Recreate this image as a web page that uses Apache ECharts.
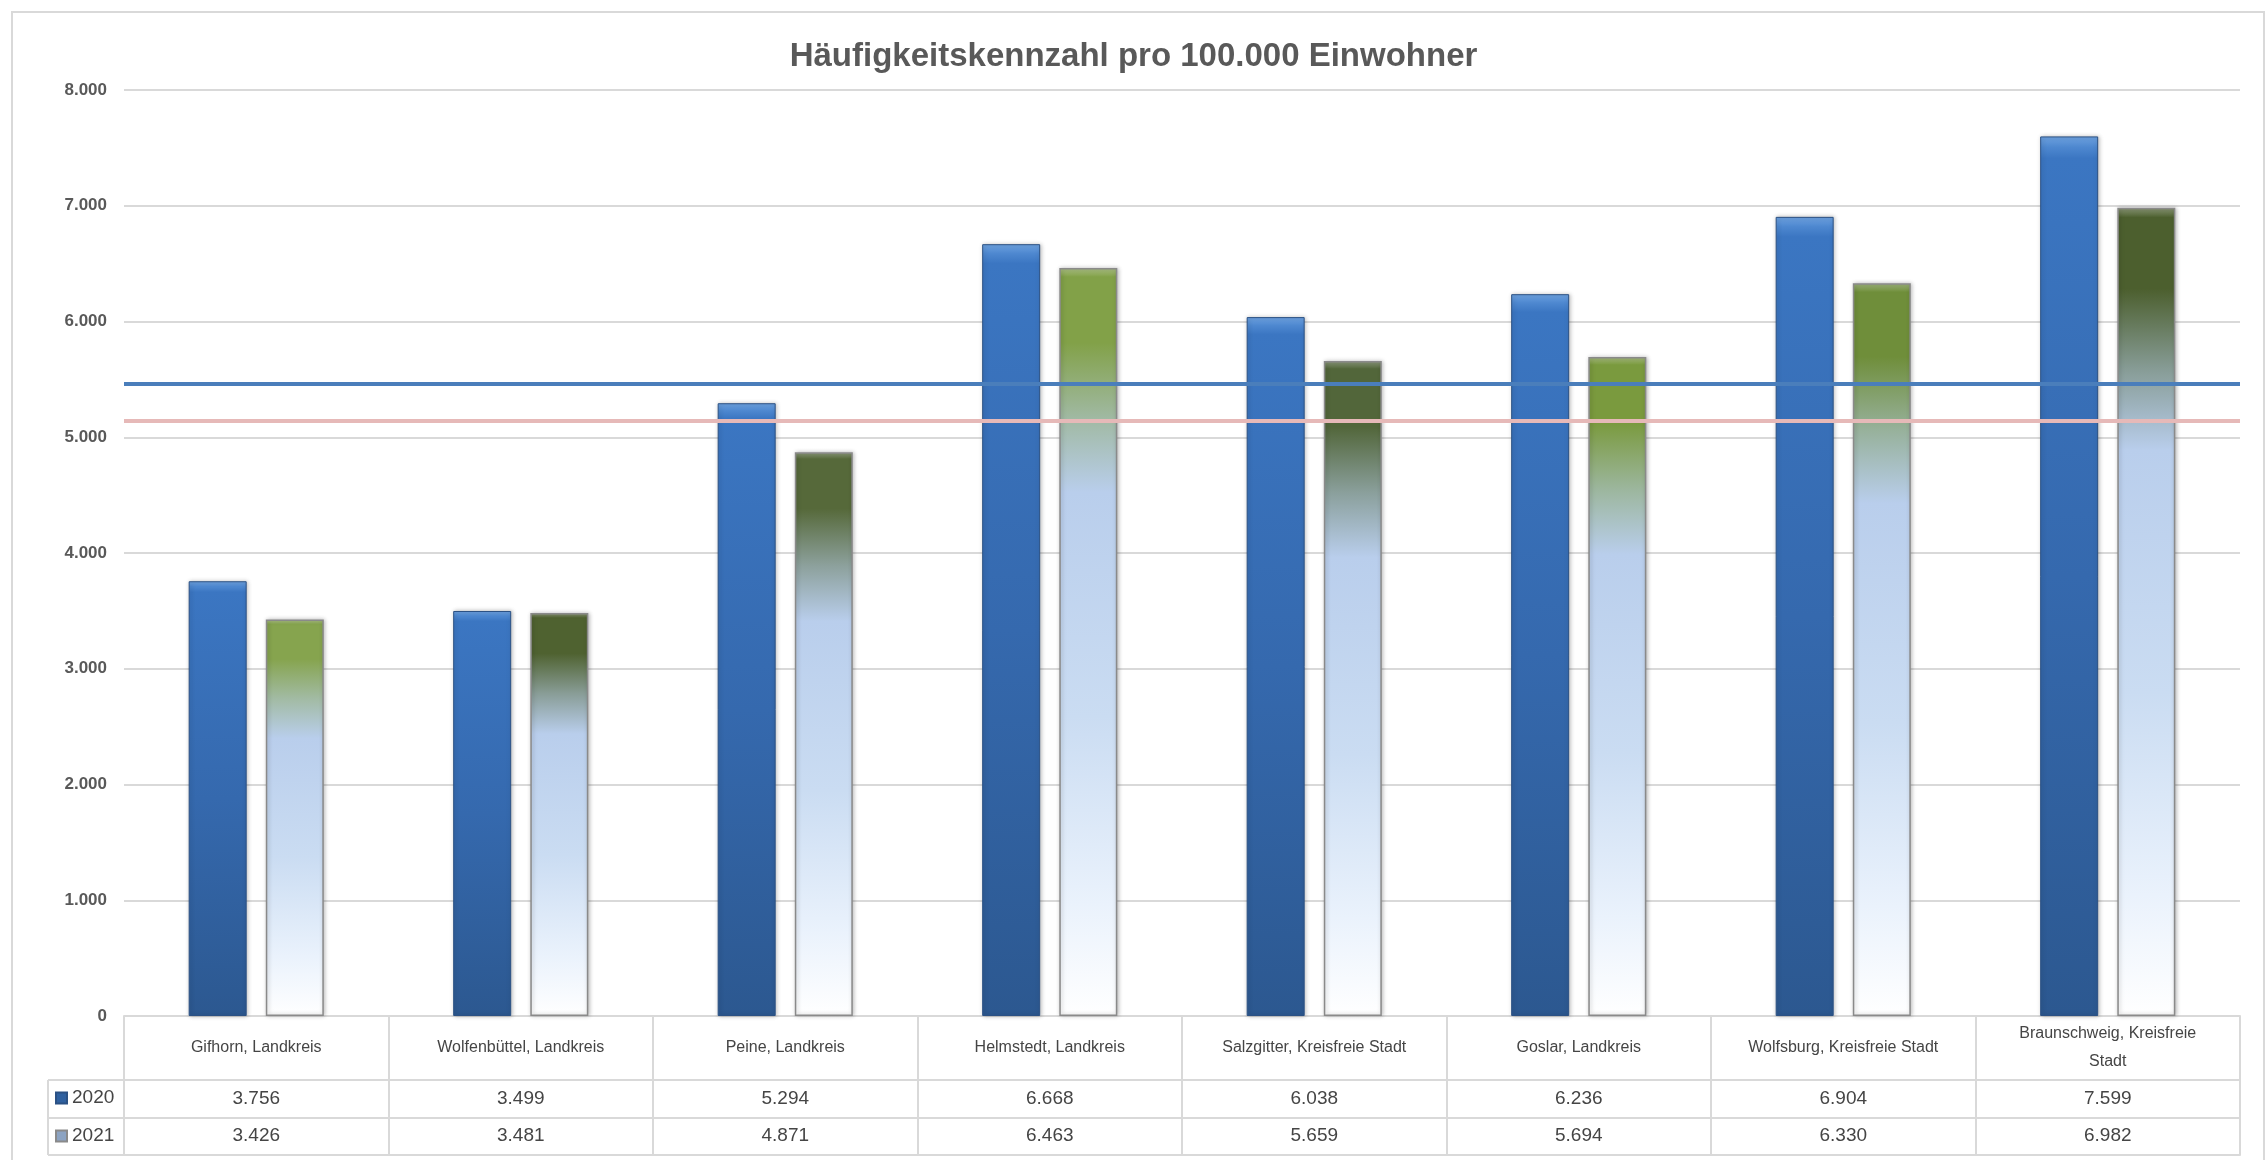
<!DOCTYPE html>
<html>
<head>
<meta charset="utf-8">
<script src="https://cdn.jsdelivr.net/npm/echarts@6/dist/echarts.min.js"></script>
<style>
	html, body { margin: 0; padding: 0; background: #fff; }
	#chart-container { width: 2267px; height: 1160px; }
</style>
</head>
<body>
<div id="chart-container"></div>
<script>
const categories = ['Gifhorn, Landkreis', 'Wolfenbüttel, Landkreis', 'Peine, Landkreis', 'Helmstedt, Landkreis',
	'Salzgitter, Kreisfreie Stadt', 'Goslar, Landkreis', 'Wolfsburg, Kreisfreie Stadt', 'Braunschweig, Kreisfreie Stadt'];
const values2020 = [3756, 3499, 5294, 6668, 6038, 6236, 6904, 7599];
const values2021 = [3426, 3481, 4871, 6463, 5659, 5694, 6330, 6982];
const seriesNames = ['2020', '2021'];
// horizontal reference lines
const refLine2020 = 5460;
const refLine2021 = 5145;
const yMin = 0, yMax = 8000, yStep = 1000;

// 1234 -> "1.234"
const fmt = v => String(Math.round(v)).replace(/\B(?=(\d{3})+(?!\d))/g, '.');

// long names wrap onto a second line at the last space
const wrapLong = s => s.length > 28 ? s.slice(0, s.lastIndexOf(' ')) + '\n' + s.slice(s.lastIndexOf(' ') + 1) : s;

const mix = (a, b, t) => {
	const pa = parseInt(a.slice(1), 16), pb = parseInt(b.slice(1), 16);
	const out = [16, 8, 0].map(s => {
		const x = (pa >> s) & 255, y = (pb >> s) & 255;
		return Math.round(x + (y - x) * t);
	});
	return '#' + out.map(n => n.toString(16).padStart(2, '0')).join('');
};

const sans = "'Liberation Sans', Arial, sans-serif";
const textGray = '#595959';
const tableText = '#454545';
const lineGray = '#D9D9D9';

// every 2021 bar starts with its own shade of green
const greenTops = ['#86A44E', '#4F6230', '#56693A', '#82A148', '#52663A', '#7A9A3E', '#6F8E3A', '#4C5F2E'];

const blueFill = {
	type: 'linear', x: 0, y: 0, x2: 0, y2: 1,
	colorStops: [
		{ offset: 0, color: '#6EA2E0' },
		{ offset: 0.012, color: '#4E88D0' },
		{ offset: 0.025, color: '#3B76C2' },
		{ offset: 0.5, color: '#3569AE' },
		{ offset: 1, color: '#2C5890' }
	]
};

const greenFill = top => ({
	type: 'linear', x: 0, y: 0, x2: 0, y2: 1,
	colorStops: [
		{ offset: 0, color: mix(top, '#FFFFFF', 0.35) },
		{ offset: 0.012, color: top },
		{ offset: 0.1, color: top },
		{ offset: 0.2, color: mix(top, '#B8CDEB', 0.55) },
		{ offset: 0.3, color: '#B9CEEC' },
		{ offset: 0.6, color: '#CADCF2' },
		{ offset: 0.85, color: '#EAF2FC' },
		{ offset: 1, color: '#FFFFFF' }
	]
});

const tableLabel = {
	interval: 0,
	verticalAlign: 'middle',
	align: 'center',
	fontFamily: sans,
	fontSize: 19,
	color: tableText
};

const myChart = echarts.init(document.getElementById('chart-container'));

const option = {
	animation: false,
	backgroundColor: '#fff',
	title: {
		text: 'Häufigkeitskennzahl pro 100.000 Einwohner',
		left: 'center',
		top: 35,
		textStyle: { fontFamily: sans, fontSize: 33, fontWeight: 'bold', color: textGray }
	},
	legend: {
		orient: 'vertical',
		left: 50,
		top: 1083,
		itemWidth: 11,
		itemHeight: 11,
		itemGap: 18,
		icon: 'rect',
		selectedMode: false,
		textStyle: { fontFamily: sans, fontSize: 19, lineHeight: 20, color: tableText },
		data: [
			{ name: seriesNames[0], itemStyle: { color: '#2F609F' } },
			{ name: seriesNames[1], itemStyle: { color: '#8CA3C2' } }
		]
	},
	grid: { left: 124, right: 27, top: 90, bottom: 144 },
	xAxis: [
		{
			type: 'category',
			data: categories,
			position: 'bottom',
			axisLine: { show: true, lineStyle: { color: lineGray, width: 2 } },
			axisTick: { show: true, interval: 0, length: 139, lineStyle: { color: lineGray, width: 2 } },
			axisLabel: Object.assign({}, tableLabel, { margin: 32, fontSize: 16, lineHeight: 28, formatter: wrapLong })
		},
		{
			type: 'category',
			data: categories,
			position: 'bottom',
			offset: 64,
			axisLine: { show: true, lineStyle: { color: lineGray, width: 2 } },
			axisTick: { show: false },
			axisLabel: Object.assign({}, tableLabel, { margin: 19, formatter: (v, i) => fmt(values2020[i]) })
		},
		{
			type: 'category',
			data: categories,
			position: 'bottom',
			offset: 102,
			axisLine: { show: true, lineStyle: { color: lineGray, width: 2 } },
			axisTick: { show: false },
			axisLabel: Object.assign({}, tableLabel, { margin: 18, formatter: (v, i) => fmt(values2021[i]) })
		},
		{
			type: 'category',
			data: categories,
			position: 'bottom',
			offset: 139,
			axisLine: { show: true, lineStyle: { color: lineGray, width: 2 } },
			axisTick: { show: false },
			axisLabel: { show: false }
		}
	],
	yAxis: {
		type: 'value',
		min: yMin,
		max: yMax,
		interval: yStep,
		axisLine: { show: false },
		axisTick: { show: false },
		splitLine: { lineStyle: { color: lineGray, width: 2 } },
		axisLabel: {
			margin: 17,
			fontFamily: sans,
			fontSize: 17,
			fontWeight: 'bold',
			color: textGray,
			formatter: fmt
		}
	},
	series: [
		{
			name: seriesNames[0],
			type: 'bar',
			barWidth: 58,
			barGap: '33%',
			data: values2020,
			itemStyle: {
				color: blueFill,
				borderColor: '#2B5184',
				borderWidth: 1,
				shadowColor: 'rgba(0,0,0,0.25)',
				shadowBlur: 4,
				shadowOffsetX: 1
			},
			markLine: {
				silent: true,
				symbol: 'none',
				label: { show: false },
				data: [
					{ yAxis: refLine2020, lineStyle: { color: '#4A7EBB', width: 4, type: 'solid' } },
					{ yAxis: refLine2021, lineStyle: { color: '#E6B9B8', width: 4, type: 'solid' } }
				]
			}
		},
		{
			name: seriesNames[1],
			type: 'bar',
			barWidth: 58,
			data: values2021.map((v, i) => ({ value: v, itemStyle: { color: greenFill(greenTops[i]) } })),
			itemStyle: {
				borderColor: '#8A8A8A',
				borderWidth: 1.5,
				shadowColor: 'rgba(0,0,0,0.25)',
				shadowBlur: 4,
				shadowOffsetX: 1
			}
		}
	],
	graphic: [
		// outer chart frame
		{ type: 'rect', z: -1, silent: true, shape: { x: 12, y: 12, width: 2252, height: 1160 },
			style: { fill: 'none', stroke: lineGray, lineWidth: 2 } },
		// legend-key column of the data table
		{ type: 'line', silent: true, shape: { x1: 48, y1: 1080, x2: 124, y2: 1080 }, style: { stroke: lineGray, lineWidth: 2 } },
		{ type: 'line', silent: true, shape: { x1: 48, y1: 1118, x2: 124, y2: 1118 }, style: { stroke: lineGray, lineWidth: 2 } },
		{ type: 'line', silent: true, shape: { x1: 48, y1: 1155, x2: 124, y2: 1155 }, style: { stroke: lineGray, lineWidth: 2 } },
		{ type: 'line', silent: true, shape: { x1: 48, y1: 1080, x2: 48, y2: 1155 }, style: { stroke: lineGray, lineWidth: 2 } }
	]
};

myChart.setOption(option);
</script>
</body>
</html>
